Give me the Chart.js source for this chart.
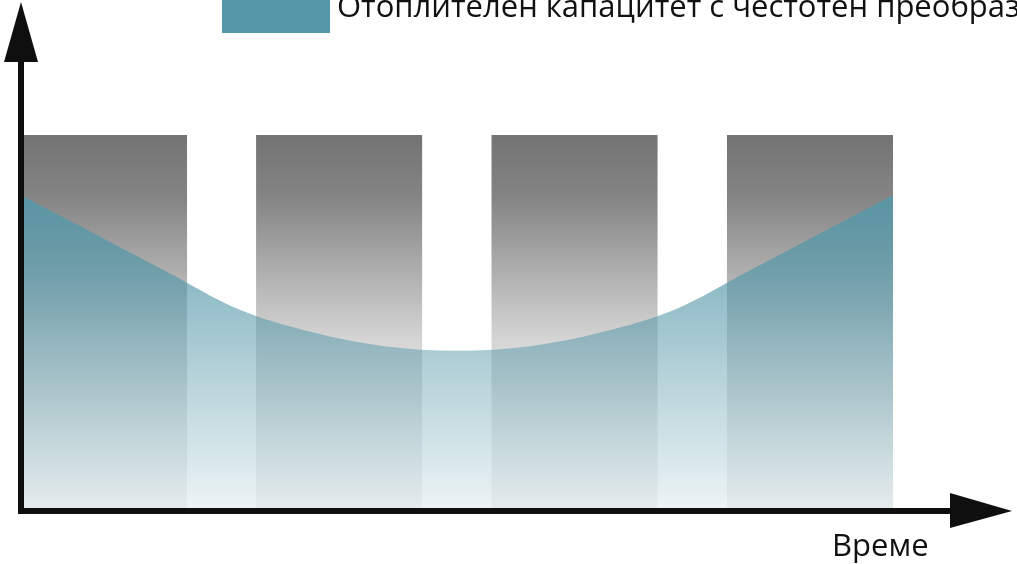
<!DOCTYPE html>
<html>
<head>
<meta charset="utf-8">
<script src="https://cdn.jsdelivr.net/npm/chart.js@4/dist/chart.umd.min.js"></script>
<style>
  html, body { margin: 0; padding: 0; background: #ffffff; }
  #wrap { width: 1017px; height: 564px; position: relative; }
</style>
</head>
<body>
<div id="wrap"><canvas id="c"></canvas></div>
<script>
// ---- data (time in hours, values in % of full capacity) ----
const barTimes = [2.285, 8.755, 15.235, 21.715];      // centre of each on-period
const barValues = [100, 100, 100, 100];                // on/off heating output
const curveTimes = [0, 2, 4, 6, 8, 10, 12, 14, 16, 18, 20, 22, 24];
const curveValues = [84.0, 73.9, 63.7, 53.6, 47.6, 43.8, 42.6, 43.8, 47.6, 53.6, 63.7, 73.9, 84.0];
const legendLabel = 'Отоплителен капацитет с честотен преобразувател';
const axisTitle = 'Време';

const FONT = '"Open Sans", "Noto Sans", sans-serif';

function barGradient(context) {
  const chart = context.chart;
  const area = chart.chartArea;
  if (!area) return '#999';
  const y = chart.scales.y;
  const g = chart.ctx.createLinearGradient(0, y.getPixelForValue(100), 0, y.getPixelForValue(0));
  g.addColorStop(0, 'rgb(115,115,115)');
  g.addColorStop(0.17, 'rgb(133,133,133)');
  g.addColorStop(0.31, 'rgb(163,163,163)');
  g.addColorStop(0.55, 'rgb(214,214,214)');
  g.addColorStop(0.8, 'rgb(238,238,238)');
  g.addColorStop(1, 'rgb(246,246,246)');
  return g;
}

function areaGradient(context) {
  const chart = context.chart;
  const area = chart.chartArea;
  if (!area) return 'rgba(85,152,168,0.6)';
  const y = chart.scales.y;
  const top = y.getPixelForValue(Math.max(...curveValues));
  const g = chart.ctx.createLinearGradient(0, top, 0, y.getPixelForValue(0));
  g.addColorStop(0, 'rgba(85,152,168,0.88)');
  g.addColorStop(1, 'rgba(85,152,168,0.10)');
  return g;
}

const decorations = {
  id: 'decorations',
  afterDraw(chart) {
    const c = chart.ctx;
    const a = chart.chartArea;
    c.save();
    // legend (cut off at the top / right like the reference)
    c.fillStyle = 'rgb(85,152,168)';
    c.fillRect(222, -7, 108, 40);
    c.fillStyle = '#111111';
    c.font = '31px ' + FONT;
    c.textBaseline = 'alphabetic';
    c.textAlign = 'left';
    c.fillText(legendLabel, 337, 17);

    // axes with arrows
    const x0 = a.left, y0 = a.bottom;
    c.fillStyle = '#0f0f0f';
    c.fillRect(x0 - 3, 60, 6, y0 + 3 - 60);          // vertical axis
    c.fillRect(x0 - 3, y0 - 3, 952 - (x0 - 3), 6);    // horizontal axis
    c.beginPath();                                     // up arrow
    c.moveTo(x0, 2);
    c.lineTo(x0 - 17, 62);
    c.lineTo(x0 + 17, 62);
    c.closePath();
    c.fill();
    c.beginPath();                                     // right arrow
    c.moveTo(1012, y0);
    c.lineTo(950, y0 - 18);
    c.lineTo(950, y0 + 17);
    c.closePath();
    c.fill();

    // axis title
    c.fillStyle = '#111111';
    c.font = '31px ' + FONT;
    c.fillText(axisTitle, 832, 556);
    c.restore();
  }
};

new Chart(document.getElementById('c'), {
  data: {
    datasets: [
      {
        type: 'line',
        label: legendLabel,
        order: 0,
        data: curveTimes.map((t, i) => ({ x: t, y: curveValues[i] })),
        fill: 'origin',
        backgroundColor: areaGradient,
        borderWidth: 0,
        borderColor: 'rgba(0,0,0,0)',
        pointRadius: 0,
        cubicInterpolationMode: 'monotone'
      },
      {
        type: 'bar',
        label: 'On/Off',
        order: 1,
        data: barTimes.map((t, i) => ({ x: t, y: barValues[i] })),
        backgroundColor: barGradient,
        borderWidth: 0,
        barPercentage: 1,
        categoryPercentage: 0.7063
      }
    ]
  },
  options: {
    responsive: true,
    maintainAspectRatio: false,
    animation: false,
    devicePixelRatio: 1,
    layout: { padding: { left: 21, right: 124, top: 135, bottom: 53 } },
    plugins: { legend: { display: false }, tooltip: { enabled: false } },
    scales: {
      x: { type: 'linear', offset: false, min: 0, max: 24, display: false, ticks: { stepSize: 24 } },
      y: { type: 'linear', min: 0, max: 100, display: false }
    }
  },
  plugins: [decorations]
});
</script>
</body>
</html>
